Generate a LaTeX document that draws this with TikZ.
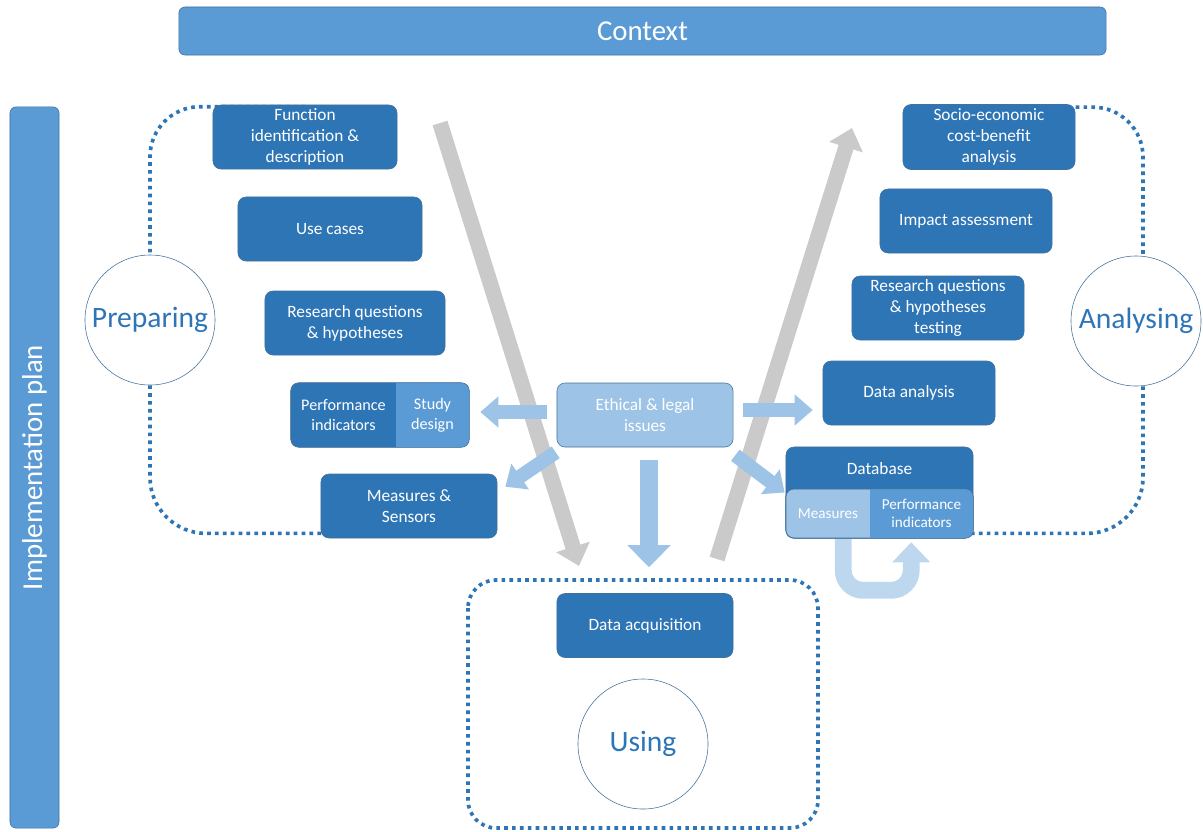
\documentclass[tikz,border=0pt]{standalone}
\usepackage{fontspec}
\setmainfont{Carlito}
\usetikzlibrary{arrows.meta,backgrounds}
\definecolor{darkBlue}{HTML}{2E75B6}
\definecolor{midBlue}{HTML}{5B9BD5}
\definecolor{lightBlue}{HTML}{9DC3E6}
\definecolor{paleBlue}{HTML}{BDD7EE}
\definecolor{edgeBlue}{HTML}{41719C}
\definecolor{arrGray}{HTML}{CACACA}

\begin{document}
\begin{tikzpicture}[
    x=0.025cm, y=-0.025cm, every node/.style={font=\fontsize{12.3}{15}\selectfont, text=white, align=center},
    bNode/.style={rectangle, rounded corners=0.2cm, draw=edgeBlue, fill=darkBlue, minimum width=4.4cm, minimum height=1.6cm, inner sep=1pt},
    barNode/.style={rectangle, rounded corners=0.15cm, draw=edgeBlue, fill=midBlue, font=\fontsize{20.5}{24}\selectfont},
    sNode/.style={font=\fontsize{11.5}{14}\selectfont, inner sep=1pt},
    cNode/.style={circle, draw=edgeBlue, fill=white, minimum size=3.25cm, inner sep=0pt, text=darkBlue, font=\fontsize{21}{24}\selectfont},
    fStyle/.style={draw=darkBlue, line width=2.6pt, dash pattern=on 2.6pt off 3pt},
    gArrow/.style={draw=arrGray, line width=11pt, -{Triangle[width=0.85cm, length=0.5cm]}},
    bArrow/.style={draw=lightBlue, line width=10pt, -{Triangle[width=0.75cm, length=0.45cm]}},
    bBig/.style={draw=lightBlue, line width=12.8pt, -{Triangle[width=1.05cm, length=0.55cm]}},
    uArrow/.style={draw=paleBlue, line width=12pt, rounded corners=0.5cm, -{Triangle[width=0.92cm, length=0.5cm]}}
]
    \useasboundingbox (0,0) rectangle (1203,831);

    % bars
    \node[barNode, minimum width=23.175cm, minimum height=1.2cm] (ctx) at (642.5,31) {Context};
    \node[barNode, rotate=90, minimum width=18.025cm, minimum height=1.225cm] (plan) at (34.5,467.5) {Implementation plan};

    % preparing side
    \node[bNode, minimum width=4.6cm] (fun) at (305,137) {Function\\identification \&\\description};
    \node[bNode, minimum width=4.6cm] (use) at (330,229) {Use cases};
    \node[bNode, minimum width=4.5cm] (rq) at (355,323) {Research questions\\\& hypotheses};
    \node[bNode, minimum width=4.45cm] (pi) at (380,415) {};
    \begin{scope}
        \clip[rounded corners=0.2cm] (pi.north west) rectangle (pi.south east);
        \fill[midBlue] (396,383) rectangle (pi.south east);
    \end{scope}
    \draw[edgeBlue, rounded corners=0.2cm] (pi.north west) rectangle (pi.south east);
    \node[sNode] (pit) at (343.5,415) {Performance\\indicators};
    \node[sNode] (sdt) at (432.5,415) {Study\\design};
    \node[bNode] (mes) at (409,506) {Measures \&\\Sensors};

    % analysing side
    \node[bNode, minimum width=4.3cm, minimum height=1.625cm] (soc) at (989,137) {Socio-economic\\cost-benefit\\analysis};
    \node[bNode, minimum width=4.3cm] (imp) at (966,221) {Impact assessment};
    \node[bNode, minimum width=4.3cm] (rqt) at (938,308) {Research questions\\\& hypotheses\\testing};
    \node[bNode, minimum width=4.3cm] (dan) at (909,393) {Data analysis};
    \node[bNode, minimum width=4.675cm, minimum height=2.275cm] (db) at (879.5,492.5) {};
    \node (dbt) at (879.5,469) {Database};
    \node[bNode, fill=lightBlue, minimum width=4.675cm, minimum height=1.225cm] (dbl) at (879.5,513.5) {};
    \begin{scope}
        \clip[rounded corners=0.2cm] (dbl.north west) rectangle (dbl.south east);
        \fill[midBlue] (870,489) rectangle (dbl.south east);
    \end{scope}
    \draw[edgeBlue, rounded corners=0.2cm] (dbl.north west) rectangle (dbl.south east);
    \node[sNode, font=\fontsize{10.8}{13}\selectfont] (dbm) at (828,513.5) {Measures};
    \node[sNode, font=\fontsize{10.8}{13}\selectfont] (dbp) at (921.5,513.5) {Performance\\indicators};

    % middle
    \node[bNode, fill=lightBlue] (eth) at (645,415) {Ethical \& legal\\issues};
    \node[bNode] (daq) at (645,625.5) {Data acquisition};

    % phases
    \node[cNode] (prep) at (150,320) {Preparing};
    \node[cNode] (ana) at (1136,321) {Analysing};
    \node[cNode] (usg) at (643,744) {Using};

    \begin{scope}[on background layer]
        \draw[fStyle, rounded corners=1.25cm] ([yshift=-1.4pt]fun.north) -| (prep.north);
        \draw[fStyle, rounded corners=1.4cm] (prep.south) |- ([yshift=3.5pt]mes.south);
        \draw[fStyle, rounded corners=1.25cm] ([yshift=-2.1pt]soc.north) -| ([xshift=5pt]ana.north);
        \draw[fStyle, rounded corners=1.4cm] ([xshift=5pt]ana.south) |- ([yshift=3.5pt]db.south);
        \draw[fStyle, rounded corners=0.7cm] (468,580) rectangle (818,828);

        % V of the process
        \coordinate (gDs) at (440,123);
        \coordinate (gDe) at (579,566);
        \coordinate (gUs) at (717,559);
        \coordinate (gUe) at (852,128);
        \draw[gArrow] (gDs) -- (gDe);
        \draw[gArrow] (gUs) -- (gUe);

        \draw[uArrow] ([xshift=1.4375cm]dbl.south west) -- ++(0,52) -- ++(68,0) -- ([shift={(125.5,4)}]dbl.south west);
    \end{scope}

    % ethics arrows
    \draw[bArrow] ([shift={(-10,-3)}]eth.west) -- ([shift={(11,-3)}]pi.east);
    \draw[bArrow] ([shift={(10,-5)}]eth.east) -- ([shift={(-10,17)}]dan.west);
    \draw[bArrow] ([shift={(-1,5)}]eth.south west) -- ([shift={(8,13)}]mes.north east);
    \draw[bArrow] ([shift={(2,8)}]eth.south east) -- ([shift={(-1,0)}]db.west);
    \draw[bBig] ([shift={(4,13)}]eth.south) -- ([shift={(4,-26)}]daq.north);
\end{tikzpicture}
\end{document}
